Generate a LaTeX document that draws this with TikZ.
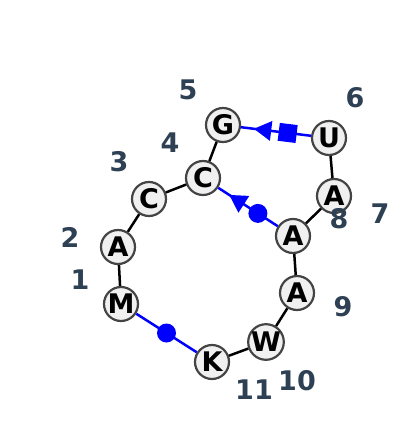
\documentclass[tikz,border=0pt]{standalone}
\usepackage{fontspec}
\setmainfont{DejaVu Sans}
\usetikzlibrary{shapes.geometric,calc}
\definecolor{labcol}{HTML}{2E4053}
\definecolor{nodefill}{HTML}{F0F0F0}
\definecolor{nodeline}{HTML}{444444}
\tikzset{
  res/.style={circle,draw=nodeline,line width=2.2pt,fill=nodefill,minimum size=34pt,inner sep=0pt,font=\fontsize{27}{27}\selectfont\bfseries},
  lab/.style={text=labcol,font=\fontsize{27}{27}\selectfont\bfseries},
  bb/.style={line width=2.5pt,black},
  blu/.style={line width=2.5pt,blue},
  dotm/.style={circle,fill=blue,minimum size=19pt,inner sep=0pt},
  sqm/.style={rectangle,fill=blue,minimum size=18pt,inner sep=0pt,sloped},
  trim/.style={isosceles triangle,fill=blue,sloped,rotate=180,inner sep=0pt,minimum height=17pt,minimum width=20pt,isosceles triangle apex angle=60}
}
\begin{document}
\begin{tikzpicture}[x=1pt,y=-1pt]
\useasboundingbox (0,0) rectangle (400,436);
% nodes
\node[res] (n1) at (121,304) {M};
\node[res] (n2) at (118,247) {A};
\node[res] (n3) at (149,199) {C};
\node[res] (n4) at (203,178) {C};
\node[res] (n5) at (223,125) {G};
\node[res] (n6) at (329,138) {U};
\node[res] (n7) at (334,196) {A};
\node[res] (n8) at (293,236) {A};
\node[res] (n9) at (297,293) {A};
\node[res] (n10) at (266,342) {W};
\node[res] (n11) at (212,362) {K};
% edges
\draw[bb] (n1) -- (n2);
\draw[bb] (n2) -- (n3);
\draw[bb] (n3) -- (n4);
\draw[bb] (n4) -- (n5);
\draw[bb] (n6) -- (n7);
\draw[bb] (n7) -- (n8);
\draw[bb] (n8) -- (n9);
\draw[bb] (n9) -- (n10);
\draw[bb] (n10) -- (n11);
\draw[blu] (n1) -- (n11);
\draw[blu] (n8) -- (n4);
\draw[blu] (n6) -- (n5);
% markers
\path (n1.center) -- (n11.center) node[dotm,pos=0.5] (d1) {};
\path (n8.center) -- (n4.center) node[dotm,pos=0.39] (d2) {}
  node[trim,pos=0.6] (t2) {};
\path (n6.center) -- (n5.center) node[sqm,pos=0.39] (s3) {}
  node[trim,pos=0.6] (t3) {};
% labels
\node[lab] (l1) at (80,280) {1};
\node[lab] (l2) at (70,237) {2};
\node[lab] (l3) at (119,162) {3};
\node[lab] (l4) at (170,143) {4};
\node[lab] (l5) at (188,90) {5};
\node[lab] (l6) at (355,98) {6};
\node[lab] (l7) at (380,214) {7};
\node[lab] (l8) at (339,219) {8};
\node[lab] (l9) at (343,307) {9};
\node[lab] (l10) at (297,381) {10};
\node[lab] (l11) at (254,390) {11};
\end{tikzpicture}
\end{document}
